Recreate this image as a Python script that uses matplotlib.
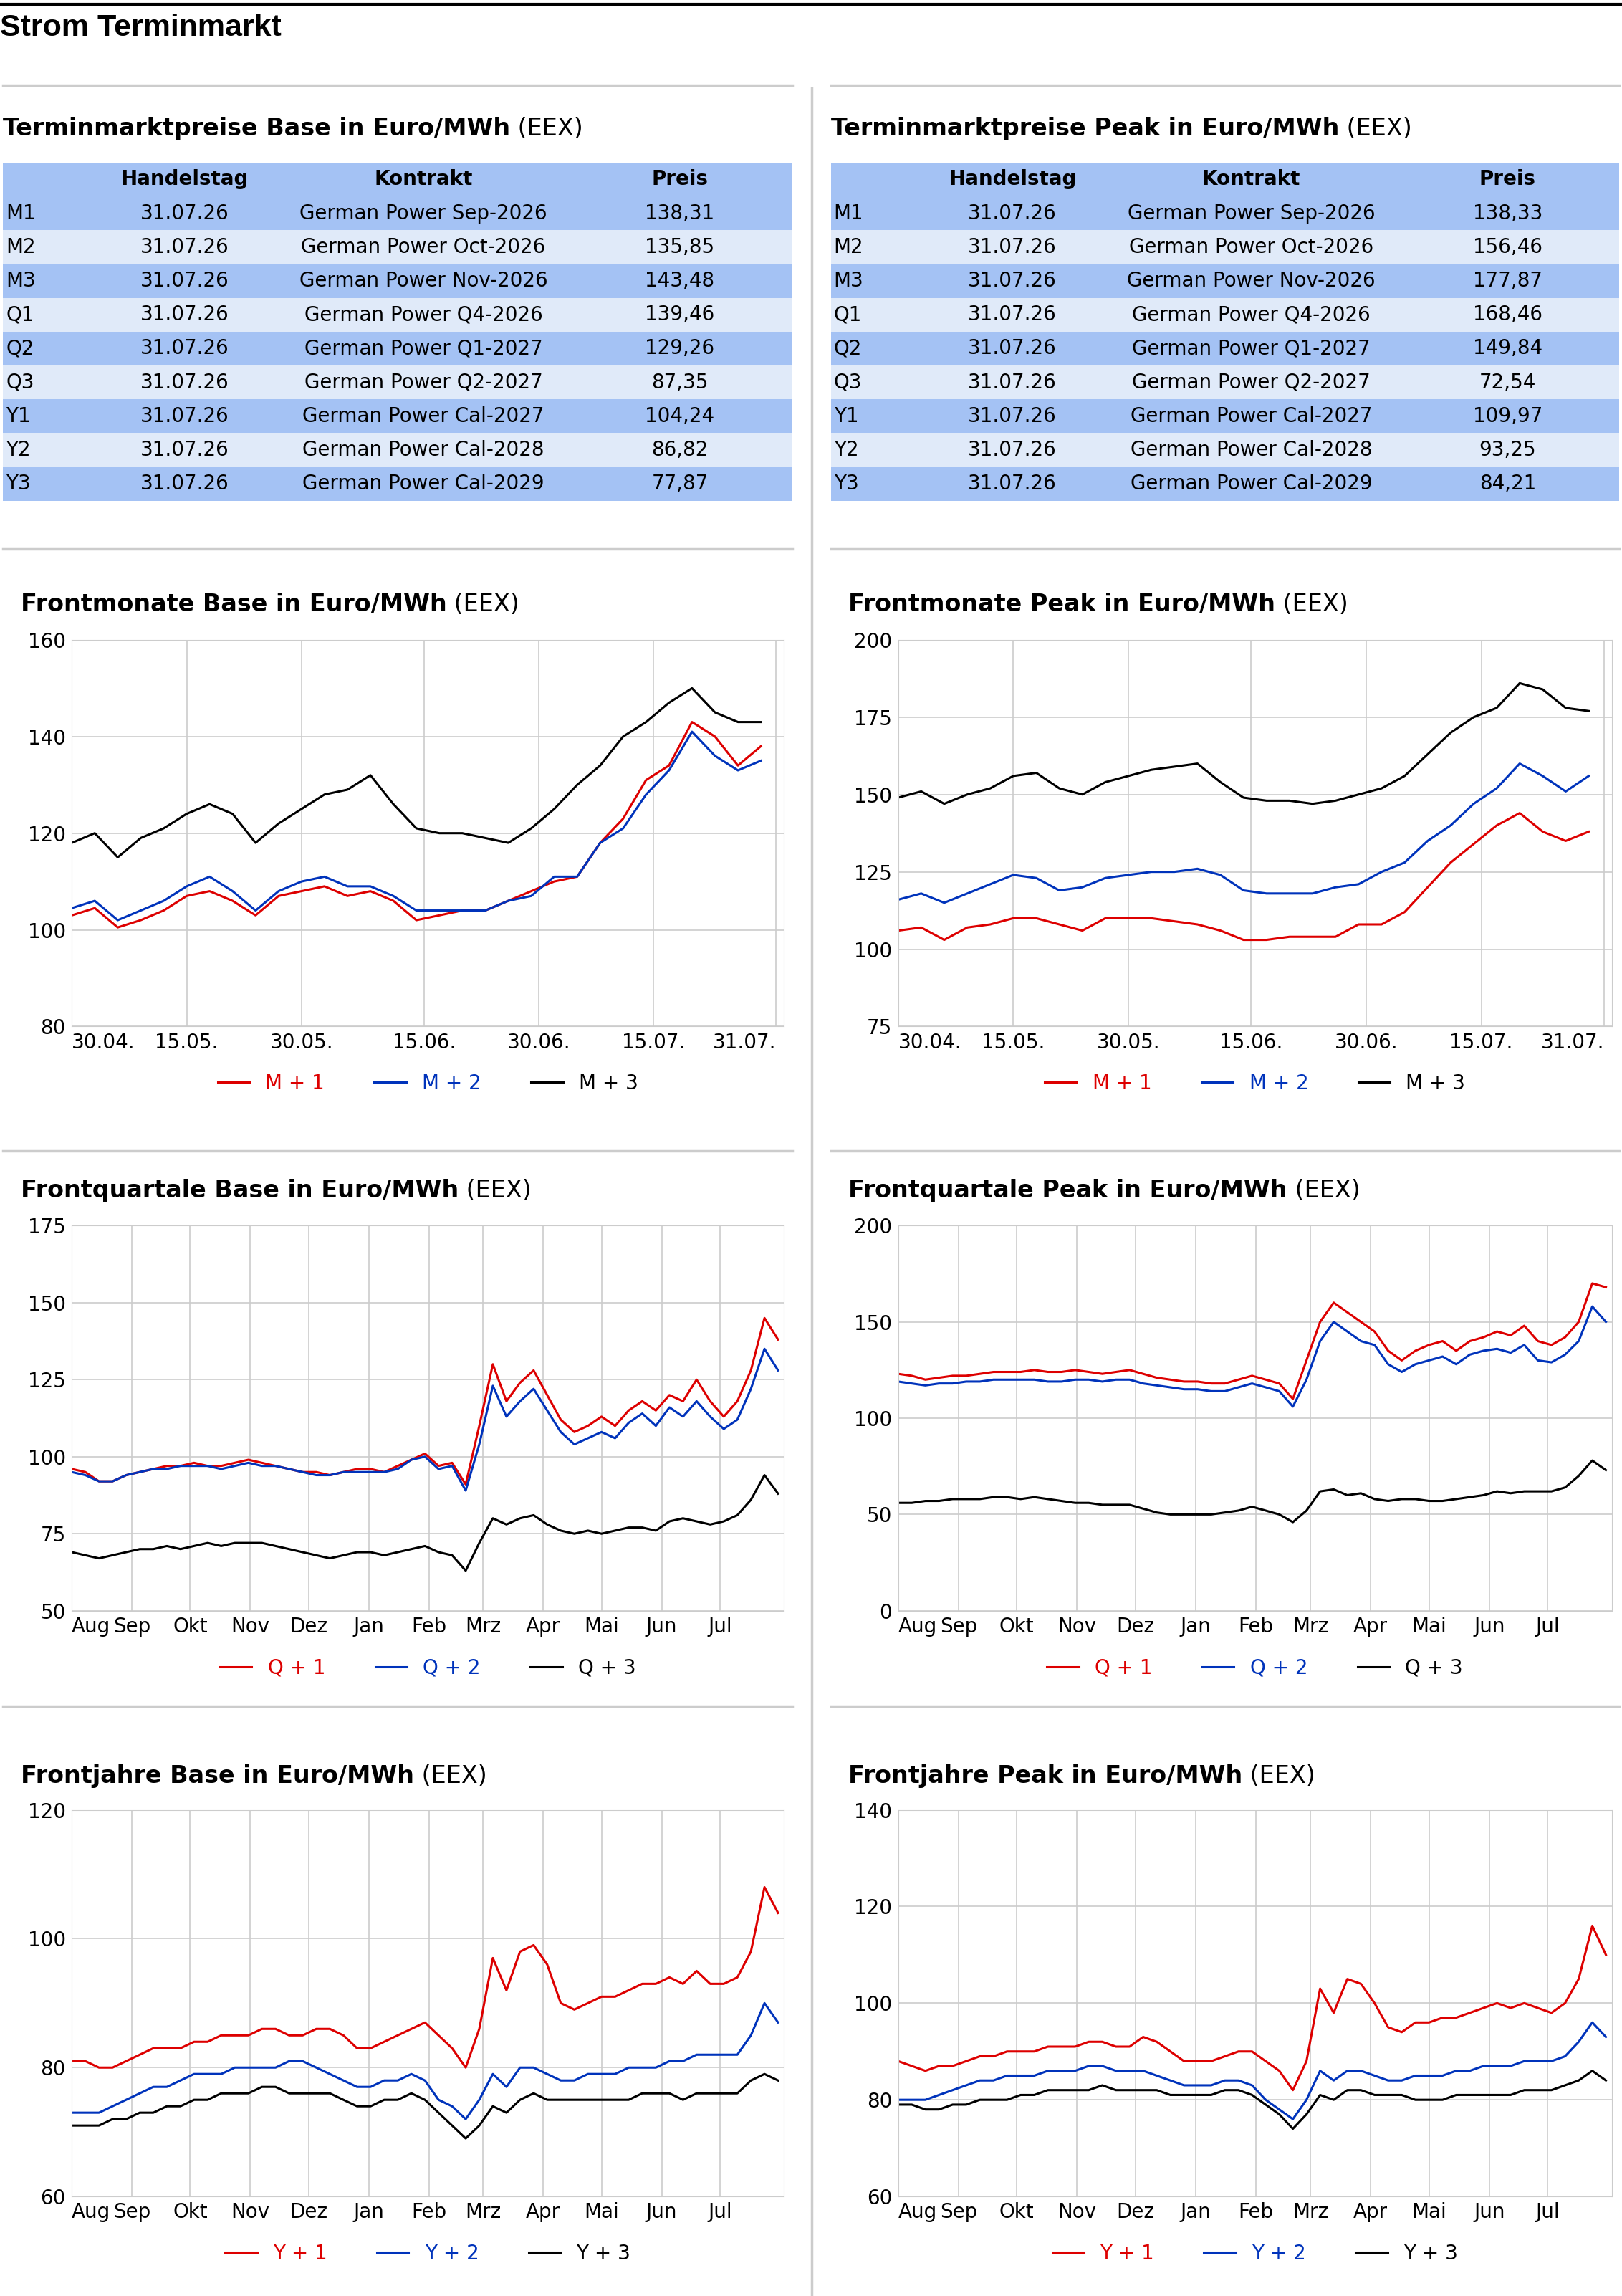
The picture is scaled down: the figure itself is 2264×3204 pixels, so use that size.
import matplotlib
matplotlib.use("Agg")
import matplotlib.pyplot as plt
from matplotlib.patches import Rectangle
import pandas as pd

# ---------------- data ----------------
row_labels = ["M1", "M2", "M3", "Q1", "Q2", "Q3", "Y1", "Y2", "Y3"]
handelstag = ["31.07.26"] * 9
kontrakte = ["German Power Sep-2026", "German Power Oct-2026", "German Power Nov-2026",
             "German Power Q4-2026", "German Power Q1-2027", "German Power Q2-2027",
             "German Power Cal-2027", "German Power Cal-2028", "German Power Cal-2029"]
preis_base = ["138,31", "135,85", "143,48", "139,46", "129,26", "87,35", "104,24", "86,82", "77,87"]
preis_peak = ["138,33", "156,46", "177,87", "168,46", "149,84", "72,54", "109,97", "93,25", "84,21"]

month_start = "2026-04-30"
m_base_1 = [103,104.5,100.5,102,104,107,108,106,103,107,108,109,107,108,106,102,103,104,104,106,108,110,111,118,123,131,134,143,140,134,138]
m_base_2 = [104.5,106,102,104,106,109,111,108,104,108,110,111,109,109,107,104,104,104,104,106,107,111,111,118,121,128,133,141,136,133,135]
m_base_3 = [118,120,115,119,121,124,126,124,118,122,125,128,129,132,126,121,120,120,119,118,121,125,130,134,140,143,147,150,145,143,143]
m_peak_1 = [106,107,103,107,108,110,110,108,106,110,110,110,109,108,106,103,103,104,104,104,108,108,112,120,128,134,140,144,138,135,138]
m_peak_2 = [116,118,115,118,121,124,123,119,120,123,124,125,125,126,124,119,118,118,118,120,121,125,128,135,140,147,152,160,156,151,156]
m_peak_3 = [149,151,147,150,152,156,157,152,150,154,156,158,159,160,154,149,148,148,147,148,150,152,156,163,170,175,178,186,184,178,177]

year_start = "2025-08-01"
q_base_1 = [96,95,92,92,94, 95,96,97,97, 98,97,97,98, 99,98,97,96,95, 95,94,95,96, 96,95,97,99, 101,97,98,91, 110,130,118,124,128, 120,112,108,110, 113,110,115,118,115, 120,118,125,118, 113,118,128,145,138]
q_base_2 = [95,94,92,92,94, 95,96,96,97, 97,97,96,97, 98,97,97,96,95, 94,94,95,95, 95,95,96,99, 100,96,97,89, 104,123,113,118,122, 115,108,104,106, 108,106,111,114,110, 116,113,118,113, 109,112,122,135,128]
q_base_3 = [69,68,67,68,69, 70,70,71,70, 71,72,71,72, 72,72,71,70,69, 68,67,68,69, 69,68,69,70, 71,69,68,63, 72,80,78,80,81, 78,76,75,76, 75,76,77,77,76, 79,80,79,78, 79,81,86,94,88]
q_peak_1 = [123,122,120,121,122, 122,123,124,124, 124,125,124,124, 125,124,123,124,125, 123,121,120,119, 119,118,118,120, 122,120,118,110, 130,150,160,155,150, 145,135,130,135, 138,140,135,140,142, 145,143,148,140, 138,142,150,170,168]
q_peak_2 = [119,118,117,118,118, 119,119,120,120, 120,120,119,119, 120,120,119,120,120, 118,117,116,115, 115,114,114,116, 118,116,114,106, 120,140,150,145,140, 138,128,124,128, 130,132,128,133,135, 136,134,138,130, 129,133,140,158,150]
q_peak_3 = [56,56,57,57,58, 58,58,59,59, 58,59,58,57, 56,56,55,55,55, 53,51,50,50, 50,50,51,52, 54,52,50,46, 52,62,63,60,61, 58,57,58,58, 57,57,58,59,60, 62,61,62,62, 62,64,70,78,73]
y_base_1 = [81,81,80,80,81, 82,83,83,83, 84,84,85,85, 85,86,86,85,85, 86,86,85,83, 83,84,85,86, 87,85,83,80, 86,97,92,98,99, 96,90,89,90, 91,91,92,93,93, 94,93,95,93, 93,94,98,108,104]
y_base_2 = [73,73,73,74,75, 76,77,77,78, 79,79,79,80, 80,80,80,81,81, 80,79,78,77, 77,78,78,79, 78,75,74,72, 75,79,77,80,80, 79,78,78,79, 79,79,80,80,80, 81,81,82,82, 82,82,85,90,87]
y_base_3 = [71,71,71,72,72, 73,73,74,74, 75,75,76,76, 76,77,77,76,76, 76,76,75,74, 74,75,75,76, 75,73,71,69, 71,74,73,75,76, 75,75,75,75, 75,75,75,76,76, 76,75,76,76, 76,76,78,79,78]
y_peak_1 = [88,87,86,87,87, 88,89,89,90, 90,90,91,91, 91,92,92,91,91, 93,92,90,88, 88,88,89,90, 90,88,86,82, 88,103,98,105,104, 100,95,94,96, 96,97,97,98,99, 100,99,100,99, 98,100,105,116,110]
y_peak_2 = [80,80,80,81,82, 83,84,84,85, 85,85,86,86, 86,87,87,86,86, 86,85,84,83, 83,83,84,84, 83,80,78,76, 80,86,84,86,86, 85,84,84,85, 85,85,86,86,87, 87,87,88,88, 88,89,92,96,93]
y_peak_3 = [79,79,78,78,79, 79,80,80,80, 81,81,82,82, 82,82,83,82,82, 82,82,81,81, 81,81,82,82, 81,79,77,74, 77,81,80,82,82, 81,81,81,80, 80,80,81,81,81, 81,81,82,82, 82,83,84,86,84]

month_ticks = ["2026-04-30", "2026-05-15", "2026-05-30", "2026-06-15", "2026-06-30", "2026-07-15", "2026-07-31"]
month_tick_labels = ["30.04.", "15.05.", "30.05.", "15.06.", "30.06.", "15.07.", "31.07."]
year_month_labels = ["Aug", "Sep", "Okt", "Nov", "Dez", "Jan", "Feb", "Mrz", "Apr", "Mai", "Jun", "Jul"]

RED, BLUE, BLACK = "#dd0000", "#0033bb", "#000000"
DARK, LIGHT = "#a4c2f4", "#e0eaf9"

# ---------------- layout helpers ----------------
W, H = 1107.0, 1568.0
fig = plt.figure(figsize=(22.64, 32.04), dpi=100)
plt.rcParams['font.family'] = ['DejaVu Sans']

def fx(x): return x / W
def fy(y): return 1 - y / H

def rect(x0, y0, x1, y1):
    return [fx(x0), fy(y1), fx(x1) - fx(x0), fy(y0) - fy(y1)]

overlay = fig.add_axes([0, 0, 1, 1], zorder=-1)
overlay.set_xlim(0, W); overlay.set_ylim(H, 0); overlay.axis("off")
overlay.plot([0, W], [3, 3], color="black", lw=3)
for y in [58, 375, 786, 1165]:
    overlay.plot([2, 541], [y, y], color="#cccccc", lw=2.5)
    overlay.plot([567, 1105], [y, y], color="#cccccc", lw=2.5)
overlay.plot([554, 554], [60, H], color="#cccccc", lw=2.5)

fig.text(fx(0), fy(19), "Strom Terminmarkt", fontsize=31, family="Liberation Sans",
         fontweight="bold", va="center", ha="left")

renderer = fig.canvas.get_renderer()

def title(x, y, bold, normal):
    t = fig.text(fx(x), fy(y), bold, fontsize=24, fontweight="bold", va="center", ha="left")
    bb = t.get_window_extent(renderer=renderer)
    fig.text(bb.x1 / fig.bbox.width, fy(y), " " + normal, fontsize=24, va="center", ha="left")

FS = 20

# ---------------- tables ----------------
def table(x0, x1, preis, head):
    title(x0, 88, head, "(EEX)")
    top, rh = 111, 23.1
    w = x1 - x0
    for r in range(10):
        yy = top + r * rh
        if r == 0:
            col = DARK
        else:
            col = DARK if (r - 1) % 2 == 0 else LIGHT
        overlay.add_patch(Rectangle((x0, yy), w, rh, color=col, lw=0))
        yc = yy + rh / 2
        if r == 0:
            for txt, cx in [("Handelstag", 126), ("Kontrakt", 289), ("Preis", 464)]:
                overlay.text(x0 - 2 + cx, yc, txt, fontsize=FS, fontweight="bold", ha="center", va="center")
        else:
            i = r - 1
            overlay.text(x0 + 2, yc, row_labels[i], fontsize=FS, ha="left", va="center")
            overlay.text(x0 - 2 + 126, yc, handelstag[i], fontsize=FS, ha="center", va="center")
            overlay.text(x0 - 2 + 289, yc, kontrakte[i], fontsize=FS, ha="center", va="center")
            overlay.text(x0 - 2 + 464, yc, preis[i], fontsize=FS, ha="center", va="center")

table(2, 541, preis_base, "Terminmarktpreise Base in Euro/MWh")
table(567, 1105, preis_peak, "Terminmarktpreise Peak in Euro/MWh")

# ---------------- charts ----------------
def chart(x0, y0, x1, y1, dates, series, names, yticks, kind):
    ax = fig.add_axes(rect(x0, y0, x1, y1))
    for vals, c, n in zip(series, [RED, BLUE, BLACK], names):
        ax.plot(dates[:len(vals)], vals, color=c, lw=2.2, label=n)
    ax.set_ylim(yticks[0], yticks[-1])
    ax.set_yticks(yticks)
    ax.grid(True, color="#cccccc", lw=1.2)
    for s in ax.spines.values():
        s.set_color("#cccccc")
    ax.tick_params(length=0, labelsize=FS, pad=6)
    if kind == "m":
        ax.set_xlim(pd.Timestamp("2026-04-30"), pd.Timestamp("2026-08-01"))
        tk = pd.to_datetime(month_ticks)
        ax.set_xticks(tk)
        ax.set_xticklabels(month_tick_labels)
        labs = ax.get_xticklabels()
        labs[0].set_ha("left"); labs[-1].set_ha("right")
    else:
        ax.set_xlim(pd.Timestamp("2025-08-01"), pd.Timestamp("2026-08-03"))
        tk = pd.date_range("2025-08-01", periods=12, freq="MS")
        ax.set_xticks(tk)
        ax.set_xticklabels(year_month_labels)
        ax.get_xticklabels()[0].set_ha("left")
    ax.legend(loc="center", bbox_to_anchor=(0.5, -39.0 / (y1 - y0)), ncol=3,
              frameon=False, fontsize=FS, labelcolor="linecolor",
              handlelength=1.6, columnspacing=2.5)
    return ax

mdates_m = pd.date_range(month_start, periods=len(m_base_1), freq="3D")
mdates_y = pd.date_range(year_start, periods=len(q_base_1), freq="7D")

title(14, 413, "Frontmonate Base in Euro/MWh", "(EEX)")
title(579, 413, "Frontmonate Peak in Euro/MWh", "(EEX)")
chart(49, 437, 535, 701, mdates_m, [m_base_1, m_base_2, m_base_3], ["M + 1", "M + 2", "M + 3"], [80, 100, 120, 140, 160], "m")
chart(613, 437, 1100, 701, mdates_m, [m_peak_1, m_peak_2, m_peak_3], ["M + 1", "M + 2", "M + 3"], [75, 100, 125, 150, 175, 200], "m")

title(14, 813, "Frontquartale Base in Euro/MWh", "(EEX)")
title(579, 813, "Frontquartale Peak in Euro/MWh", "(EEX)")
chart(49, 837, 535, 1100, mdates_y, [q_base_1, q_base_2, q_base_3], ["Q + 1", "Q + 2", "Q + 3"], [50, 75, 100, 125, 150, 175], "y")
chart(613, 837, 1100, 1100, mdates_y, [q_peak_1, q_peak_2, q_peak_3], ["Q + 1", "Q + 2", "Q + 3"], [0, 50, 100, 150, 200], "y")

title(14, 1213, "Frontjahre Base in Euro/MWh", "(EEX)")
title(579, 1213, "Frontjahre Peak in Euro/MWh", "(EEX)")
chart(49, 1236, 535, 1500, mdates_y, [y_base_1, y_base_2, y_base_3], ["Y + 1", "Y + 2", "Y + 3"], [60, 80, 100, 120], "y")
chart(613, 1236, 1100, 1500, mdates_y, [y_peak_1, y_peak_2, y_peak_3], ["Y + 1", "Y + 2", "Y + 3"], [60, 80, 100, 120, 140], "y")

fig.savefig("out.png", dpi=100)
